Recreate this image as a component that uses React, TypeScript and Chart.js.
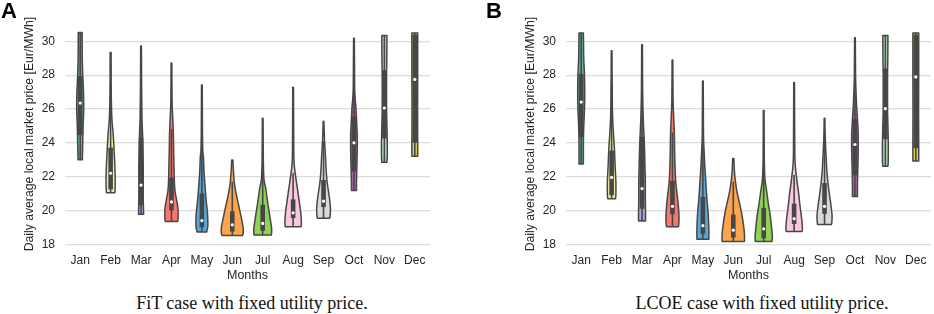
import React, { useEffect, useRef } from "react";
import { Chart, registerables } from "chart.js";

Chart.register(...registerables);

// ---------- data ----------
const months = ["Jan", "Feb", "Mar", "Apr", "May", "Jun", "Jul", "Aug", "Sep", "Oct", "Nov", "Dec"];
const yTickValues = [18, 20, 22, 24, 26, 28, 30];
const yAxisMin = 17.6;
const yAxisMax = 31.43;

const yTitle = "Daily average local market price [Eur/MWh]";
const xTitle = "Months";
const captionA = "FiT case with fixed utility price.";
const captionB = "LCOE case with fixed utility price.";

// Panel A: FiT case
const fitMin = [23.0, 21.05, 19.77, 19.35, 18.73, 18.52, 18.54, 19.04, 19.53, 21.18, 22.85, 23.2];
const fitQ1 = [24.45, 21.24, 20.3, 20.0, 19.0, 18.75, 18.8, 19.55, 20.2, 22.3, 24.26, 24.0];
const fitMedian = [26.35, 22.2, 21.5, 20.5, 19.4, 19.15, 19.23, 19.86, 20.55, 24.0, 26.06, 27.75];
const fitQ3 = [27.95, 23.71, 24.3, 21.95, 21.0, 19.95, 20.34, 20.65, 21.8, 25.56, 28.3, 30.4];
const fitWhiskerHigh = [30.52, 27.4, 29.72, 24.8, 23.9, 21.7, 22.5, 22.2, 24.1, 30.18, 30.35, 30.5];
const fitMax = [30.52, 29.34, 29.72, 28.72, 27.42, 22.98, 25.45, 27.29, 25.27, 30.18, 30.35, 30.5];
// relative kernel density at price levels (price, density), top to bottom
const fitDensity: number[][][] = [
  [[30.52, 0.16], [29, 0.17], [28, 0.21], [27, 0.27], [26, 0.29], [25, 0.24], [24, 0.21], [23.0, 0.18]],
  [[29.34, 0.04], [27, 0.05], [25.5, 0.1], [24.5, 0.21], [23.5, 0.29], [22.6, 0.35], [21.7, 0.38], [21.05, 0.35]],
  [[29.72, 0.03], [27, 0.05], [25.4, 0.08], [24.4, 0.13], [23.5, 0.16], [22.6, 0.18], [21.7, 0.18], [20.8, 0.18], [19.77, 0.21]],
  [[28.72, 0.03], [26.5, 0.05], [25.55, 0.1], [24.45, 0.16], [23.5, 0.18], [22.6, 0.21], [21.7, 0.24], [21.15, 0.29], [20.6, 0.43], [20.05, 0.54], [19.5, 0.54], [19.35, 0.51]],
  [[27.42, 0.03], [24.5, 0.05], [23.5, 0.08], [23.15, 0.13], [22.25, 0.18], [21.33, 0.27], [20.6, 0.35], [19.86, 0.46], [19.13, 0.49], [18.85, 0.43], [18.73, 0.4]],
  [[22.98, 0.05], [22.5, 0.08], [21.7, 0.16], [21.15, 0.27], [20.6, 0.43], [20.05, 0.6], [19.5, 0.76], [18.95, 0.9], [18.67, 0.9], [18.52, 0.84]],
  [[25.45, 0.03], [23, 0.05], [21.88, 0.1], [21.33, 0.24], [20.78, 0.35], [20.23, 0.46], [19.5, 0.62], [18.95, 0.73], [18.67, 0.73], [18.54, 0.71]],
  [[27.29, 0.03], [24, 0.05], [22.8, 0.08], [22.0, 0.21], [21.3, 0.35], [20.6, 0.49], [19.9, 0.62], [19.3, 0.68], [19.04, 0.65]],
  [[25.27, 0.03], [24.5, 0.06], [23.9, 0.1], [23.16, 0.16], [22.43, 0.21], [21.7, 0.29], [21.15, 0.4], [20.6, 0.51], [20.05, 0.57], [19.68, 0.54], [19.53, 0.49]],
  [[30.18, 0.03], [28, 0.05], [27.2, 0.06], [26.6, 0.1], [26.1, 0.16], [25.4, 0.21], [24.45, 0.27], [23.5, 0.27], [22.6, 0.24], [21.7, 0.21], [21.18, 0.21]],
  [[30.35, 0.21], [29, 0.2], [28, 0.18], [26, 0.18], [25, 0.21], [24, 0.24], [23.3, 0.24], [22.85, 0.21]],
  [[30.5, 0.24], [28, 0.24], [26, 0.23], [24, 0.24], [23.2, 0.24]],
];

// Panel B: LCOE case
const lcoeMin = [22.74, 20.69, 19.37, 19.04, 18.3, 18.16, 18.16, 18.76, 19.17, 20.82, 22.61, 22.92];
const lcoeQ1 = [24.32, 20.9, 20.1, 19.78, 18.6, 18.4, 18.35, 19.2, 19.8, 22.08, 24.22, 23.68];
const lcoeMedian = [26.41, 21.95, 21.29, 20.24, 19.1, 18.83, 18.91, 19.51, 20.24, 23.9, 26.02, 27.9];
const lcoeQ3 = [28.08, 23.54, 24.36, 21.75, 20.8, 19.75, 20.15, 20.4, 21.62, 25.4, 28.4, 30.4];
const lcoeWhiskerHigh = [30.5, 27.4, 29.8, 24.6, 24.0, 21.7, 22.7, 22.1, 24.2, 30.22, 30.35, 30.5];
const lcoeMax = [30.5, 29.45, 29.8, 28.9, 27.65, 23.07, 25.91, 27.56, 25.45, 30.22, 30.35, 30.5];
const lcoeDensity: number[][][] = [
  [[30.5, 0.18], [29, 0.21], [28, 0.27], [27, 0.29], [26, 0.27], [25, 0.21], [24, 0.18], [22.74, 0.18]],
  [[29.45, 0.03], [27, 0.05], [25.55, 0.08], [24.45, 0.16], [23.5, 0.24], [22.6, 0.29], [21.7, 0.35], [20.96, 0.35], [20.69, 0.32]],
  [[29.8, 0.03], [27, 0.05], [25.4, 0.1], [24.4, 0.16], [23.5, 0.21], [22.6, 0.24], [21.7, 0.27], [20.78, 0.27], [19.86, 0.29], [19.37, 0.29]],
  [[28.9, 0.03], [26.5, 0.05], [25.55, 0.1], [24.45, 0.16], [23.5, 0.18], [22.6, 0.21], [21.7, 0.27], [20.96, 0.38], [20.23, 0.49], [19.5, 0.54], [19.13, 0.51], [19.04, 0.49]],
  [[27.65, 0.03], [24.5, 0.05], [23.53, 0.1], [22.6, 0.16], [21.7, 0.24], [20.78, 0.32], [19.86, 0.43], [18.95, 0.49], [18.4, 0.49], [18.3, 0.49]],
  [[23.07, 0.05], [22.25, 0.1], [21.7, 0.18], [21.15, 0.29], [20.6, 0.46], [19.86, 0.68], [19.13, 0.84], [18.58, 0.92], [18.2, 0.92], [18.16, 0.9]],
  [[25.91, 0.03], [23, 0.05], [21.88, 0.1], [21.15, 0.24], [20.41, 0.38], [19.68, 0.54], [18.95, 0.65], [18.4, 0.71], [18.16, 0.68]],
  [[27.56, 0.03], [24, 0.05], [22.8, 0.08], [21.7, 0.24], [20.96, 0.38], [20.23, 0.49], [19.5, 0.62], [18.95, 0.68], [18.76, 0.65]],
  [[25.45, 0.03], [24.5, 0.05], [23.9, 0.08], [23.16, 0.13], [22.43, 0.18], [21.7, 0.27], [20.96, 0.4], [20.23, 0.54], [19.68, 0.62], [19.31, 0.6], [19.17, 0.57]],
  [[30.22, 0.03], [28, 0.05], [27.2, 0.08], [26.28, 0.13], [25.36, 0.21], [24.45, 0.27], [23.53, 0.27], [22.6, 0.24], [21.7, 0.21], [20.82, 0.21]],
  [[30.35, 0.21], [29, 0.2], [28, 0.18], [26, 0.18], [25, 0.21], [24, 0.24], [23, 0.24], [22.61, 0.21]],
  [[30.5, 0.24], [28, 0.24], [26, 0.23], [24, 0.24], [22.92, 0.24]],
];

const monthColors = ["#5cb3a5", "#eeee9c", "#aaa6d6", "#f8766a", "#58a8da", "#fca54c", "#8fd254", "#fbc6df", "#d9d9d9", "#b164b2", "#b5ddbc", "#e3cf46"];

// ---------- drawing ----------
const FONT = "'Liberation Sans', Arial, Helvetica, sans-serif";
const INK = "#262626";
const LINE = "#474747";

type Stats = {
  min: number[]; q1: number[]; median: number[]; q3: number[]; whiskerHigh: number[]; max: number[]; density: number[][][];
};

function smoothPath(ctx: CanvasRenderingContext2D, pts: number[][], moveFirst: boolean) {
  if (moveFirst) ctx.moveTo(pts[0][0], pts[0][1]);
  else ctx.lineTo(pts[0][0], pts[0][1]);
  for (let i = 0; i < pts.length - 1; i++) {
    const p0 = pts[Math.max(0, i - 1)];
    const p1 = pts[i];
    const p2 = pts[i + 1];
    const p3 = pts[Math.min(pts.length - 1, i + 2)];
    const c1x = p1[0] + (p2[0] - p0[0]) / 6;
    const c1y = p1[1] + (p2[1] - p0[1]) / 6;
    const c2x = p2[0] - (p3[0] - p1[0]) / 6;
    const c2y = p2[1] - (p3[1] - p1[1]) / 6;
    ctx.bezierCurveTo(c1x, c1y, c2x, c2y, p2[0], p2[1]);
  }
}

function violinPlugin(stats: Stats) {
  return {
    id: "violins",
    afterDatasetsDraw(chart: any) {
      const { ctx, scales } = chart;
      const x = scales.x;
      const y = scales.y;
      const cw = x.getPixelForValue(1) - x.getPixelForValue(0);
      const half = cw * 0.4;
      ctx.save();
      stats.density.forEach((profile, i) => {
        const cx = x.getPixelForValue(i);
        const right = profile.map(([v, d]) => [cx + d * half, y.getPixelForValue(v)]);
        const left = profile.slice().reverse().map(([v, d]) => [cx - d * half, y.getPixelForValue(v)]);
        ctx.beginPath();
        smoothPath(ctx, right, true);
        smoothPath(ctx, left, false);
        ctx.closePath();
        ctx.fillStyle = monthColors[i];
        ctx.fill();
        ctx.lineWidth = 1.5;
        ctx.strokeStyle = LINE;
        ctx.lineJoin = "round";
        ctx.stroke();

        // whisker
        ctx.beginPath();
        ctx.moveTo(cx, y.getPixelForValue(stats.min[i]));
        ctx.lineTo(cx, y.getPixelForValue(stats.whiskerHigh[i]));
        ctx.lineWidth = 1.6;
        ctx.lineCap = "butt";
        ctx.stroke();
        // box
        ctx.beginPath();
        ctx.moveTo(cx, y.getPixelForValue(stats.q1[i]));
        ctx.lineTo(cx, y.getPixelForValue(stats.q3[i]));
        ctx.lineWidth = 4.6;
        ctx.stroke();
        // median
        ctx.beginPath();
        ctx.arc(cx, y.getPixelForValue(stats.median[i]), 1.6, 0, Math.PI * 2);
        ctx.fillStyle = "#ffffff";
        ctx.fill();
      });
      ctx.restore();
    },
  };
}

function makeConfig(stats: Stats): any {
  return {
    type: "bar",
    data: {
      labels: months,
      datasets: [
        {
          data: stats.min.map((m, i) => [m, stats.max[i]]),
          backgroundColor: "rgba(0,0,0,0)",
          borderWidth: 0,
        },
      ],
    },
    options: {
      responsive: false,
      animation: false,
      events: [],
      layout: { padding: { left: 0, right: 3, top: 0, bottom: 0 } },
      plugins: { legend: { display: false }, tooltip: { enabled: false }, title: { display: false } },
      scales: {
        x: {
          type: "category",
          offset: true,
          grid: { display: false, drawTicks: false },
          border: { display: false },
          ticks: { font: { family: FONT, size: 12 }, color: INK, padding: 2, maxRotation: 0, autoSkip: false },
          title: { display: true, text: xTitle, font: { family: FONT, size: 12.5 }, color: INK, padding: { top: 0, bottom: 7 } },
          afterFit: (s: any) => { s.height = 39; },
        },
        y: {
          type: "linear",
          min: yAxisMin,
          max: yAxisMax,
          afterBuildTicks: (s: any) => { s.ticks = yTickValues.map((v) => ({ value: v })); },
          grid: { color: "#dcdcdc", lineWidth: 1.3, drawTicks: false },
          border: { display: false },
          ticks: { font: { family: FONT, size: 12 }, color: INK, padding: 10 },
          title: { display: true, text: yTitle, font: { family: FONT, size: 12.2 }, color: INK, padding: { top: 22.7, bottom: 0 } },
          afterFit: (s: any) => { s.width = 65; },
        },
      },
    },
    plugins: [violinPlugin(stats)],
  };
}

function Panel({ stats, left }: { stats: Stats; left: number }) {
  const ref = useRef<HTMLCanvasElement | null>(null);
  useEffect(() => {
    if (!ref.current) return;
    const chart = new Chart(ref.current, makeConfig(stats));
    return () => chart.destroy();
  }, [stats]);
  return (
    <canvas
      ref={ref}
      width={433}
      height={290}
      style={{ position: "absolute", left, top: 0, width: 433, height: 290 }}
    />
  );
}

const fitStats: Stats = { min: fitMin, q1: fitQ1, median: fitMedian, q3: fitQ3, whiskerHigh: fitWhiskerHigh, max: fitMax, density: fitDensity };
const lcoeStats: Stats = { min: lcoeMin, q1: lcoeQ1, median: lcoeMedian, q3: lcoeQ3, whiskerHigh: lcoeWhiskerHigh, max: lcoeMax, density: lcoeDensity };

export default function App() {
  const letter: React.CSSProperties = {
    position: "absolute", top: 0, fontFamily: FONT, fontWeight: "bold", fontSize: 22, lineHeight: "22px", color: "#000",
  };
  const caption: React.CSSProperties = {
    position: "absolute", top: 293, width: 400, textAlign: "center", fontFamily: "'Liberation Serif', 'Times New Roman', serif",
    fontSize: 18, lineHeight: "20px", color: "#111", whiteSpace: "nowrap",
  };
  return (
    <div style={{ position: "absolute", left: 0, top: 0, width: 934, height: 314, background: "#fff", overflow: "hidden" }}>
      <Panel stats={fitStats} left={0} />
      <Panel stats={lcoeStats} left={501} />
      <div style={{ ...letter, left: 1 }}>A</div>
      <div style={{ ...letter, left: 486 }}>B</div>
      <div style={{ ...caption, left: 252 - 200 }}>{captionA}</div>
      <div style={{ ...caption, left: 762 - 200 }}>{captionB}</div>
    </div>
  );
}
